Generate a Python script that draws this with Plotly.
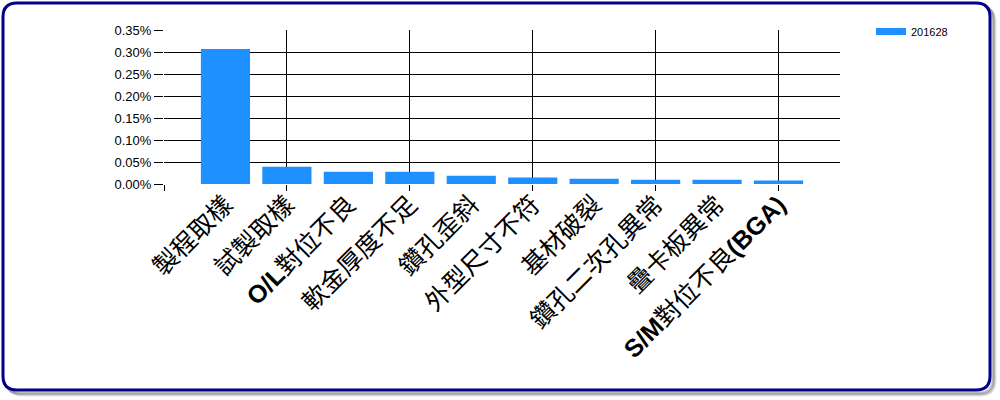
import re
import plotly.graph_objects as go

categories = ["製程取樣", "試製取樣", "O/L對位不良", "軟金厚度不足", "鑽孔歪斜",
              "外型尺寸不符", "基材破裂", "鑽孔二次孔異常", "疊卡板異常", "S/M對位不良(BGA)"]
values_pct = [0.307, 0.039, 0.028, 0.028, 0.019, 0.015, 0.012, 0.0097, 0.0096, 0.0081]
series_name = "201628"
y_ticks = [0.00, 0.05, 0.10, 0.15, 0.20, 0.25, 0.30, 0.35]

W, H = 1000, 400
L, R, T, B = 164, 160, 30, 216
PW, PH = W - L - R, H - T - B
BLUE = "#1E90FF"


def bold_latin(s):
    return re.sub(r"([A-Za-z/()]+)", r"<b>\1</b>", s)


def px(x):
    return (x - L) / PW


def py(y):
    return (H - B - y) / PH


def rounded(x0, y0, x1, y1, r):
    rx, ry = r / PW, r / PH
    a, b, c, d = px(x0), py(y0), px(x1), py(y1)
    return (f"M {a+rx} {b} L {c-rx} {b} Q {c} {b} {c} {b-ry} "
            f"L {c} {d+ry} Q {c} {d} {c-rx} {d} L {a+rx} {d} "
            f"Q {a} {d} {a} {d+ry} L {a} {b-ry} Q {a} {b} {a+rx} {b} Z")


idx = list(range(len(categories)))
fig = go.Figure()
fig.add_trace(go.Bar(x=idx, y=values_pct, name=series_name, marker_color=BLUE,
                     marker_line_width=0, width=0.8, showlegend=False))
# legend entry drawn as a wide swatch
fig.add_trace(go.Scatter(x=[None], y=[None], mode="lines", name=series_name,
                         line=dict(color=BLUE, width=7), hoverinfo="skip"))
fig.add_trace(go.Scatter(x=[None], y=[None], xaxis="x2", showlegend=False, hoverinfo="skip"))

shapes = []
for off, col in [(5, "rgba(0,0,0,0.10)"), (4, "rgba(0,0,0,0.15)"), (3, "rgba(0,0,0,0.2)")]:
    shapes.append(dict(type="path", xref="paper", yref="paper",
                       path=rounded(3 + off, 3 + off, 990 + off, 390 + off, 14),
                       line=dict(color=col, width=3), layer="below"))
shapes.append(dict(type="path", xref="paper", yref="paper",
                   path=rounded(3, 3, 990, 390, 14),
                   line=dict(color="#00008B", width=3), fillcolor="white", layer="below"))

fig.update_layout(
    width=W, height=H,
    margin=dict(l=L, r=R, t=T, b=B, pad=0),
    paper_bgcolor="white", plot_bgcolor="rgba(0,0,0,0)",
    shapes=shapes,
    showlegend=True,
    legend=dict(x=px(871), y=py(17), xanchor="left", yanchor="top",
                font=dict(family="Liberation Sans, Arial", size=11, color="#000"),
                bgcolor="rgba(0,0,0,0)"),
    xaxis=dict(range=[-1, len(categories)], tickmode="array", tickvals=idx,
               ticktext=[bold_latin(c) for c in categories], tickangle=-45,
               showgrid=False, zeroline=False, ticks="", showline=False,
               tickfont=dict(family="Liberation Sans, Noto Sans CJK TC", size=25, color="#000")),
    xaxis2=dict(range=[-1, len(categories)], overlaying="x", anchor="y", side="bottom",
                tickmode="array", tickvals=[-1, 1, 3, 5, 7, 9], showticklabels=False,
                showgrid=True, gridcolor="#000", gridwidth=1, ticks="outside",
                ticklen=6, tickcolor="#000", zeroline=False),
    yaxis=dict(range=[0, 0.35], tickmode="array", tickvals=y_ticks,
               ticktext=[f"{v:.2f}%" for v in y_ticks], showgrid=True, gridcolor="#000",
               gridwidth=1, ticks="outside", ticklen=9, tickcolor="#000", zeroline=False,
               showline=False,
               tickfont=dict(family="Liberation Sans, Arial", size=13, color="#000")),
    bargap=0.2,
)

fig.write_html("out.html")
